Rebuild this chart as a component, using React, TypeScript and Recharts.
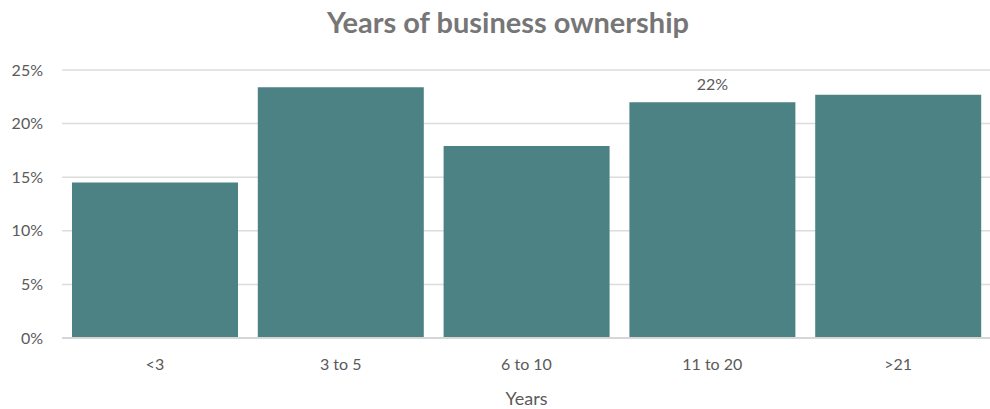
import React from 'react';
import { BarChart, Bar, XAxis, YAxis, CartesianGrid, LabelList } from 'recharts';

const categories = ['<3', '3 to 5', '6 to 10', '11 to 20', '>21'];
const shares = [14.5, 23.4, 17.9, 22.0, 22.7];
const shownLabels = ['', '', '', '22%', ''];
const yTicks = [0, 5, 10, 15, 20, 25];

const data = categories.map((years, i) => ({
  years,
  share: shares[i],
  label: shownLabels[i],
}));

const font = 'Lato, "Open Sans", sans-serif';

export default function App() {
  return (
    <div style={{ position: 'absolute', left: 0, top: 0, width: 990, height: 409, fontFamily: font }}>
      <div
        style={{
          position: 'absolute',
          left: 0,
          width: 1016,
          top: 4,
          textAlign: 'center',
          fontSize: 29,
          fontWeight: 700,
          color: '#767676',
        }}
      >
        Years of business ownership
      </div>
      <BarChart
        width={990}
        height={409}
        data={data}
        margin={{ top: 70, right: -1, left: 0, bottom: 0 }}
        barCategoryGap={10}
      >
        <CartesianGrid vertical={false} stroke="#dcdcdc" strokeWidth={1.5} />
        <XAxis
          dataKey="years"
          height={71}
          tickLine={false}
          axisLine={{ stroke: '#d6d6d6', strokeWidth: 2 }}
          tick={{ fill: '#5a5a5a', fontSize: 16, fontFamily: font }}
          tickMargin={15}
          label={{ value: 'Years', position: 'insideBottom', offset: 4, fill: '#5a5a5a', fontSize: 18, fontFamily: font }}
        />
        <YAxis
          width={62}
          domain={[0, 25]}
          ticks={yTicks}
          tickFormatter={(v) => `${v}%`}
          axisLine={false}
          tickLine={false}
          tickMargin={13}
          tick={{ fill: '#5a5a5a', fontSize: 16, fontFamily: font }}
        />
        <Bar dataKey="share" fill="#4d8285" isAnimationActive={false}>
          <LabelList dataKey="label" position="top" offset={12} fill="#5a5a5a" fontSize={16} fontFamily={font} />
        </Bar>
      </BarChart>
    </div>
  );
}
